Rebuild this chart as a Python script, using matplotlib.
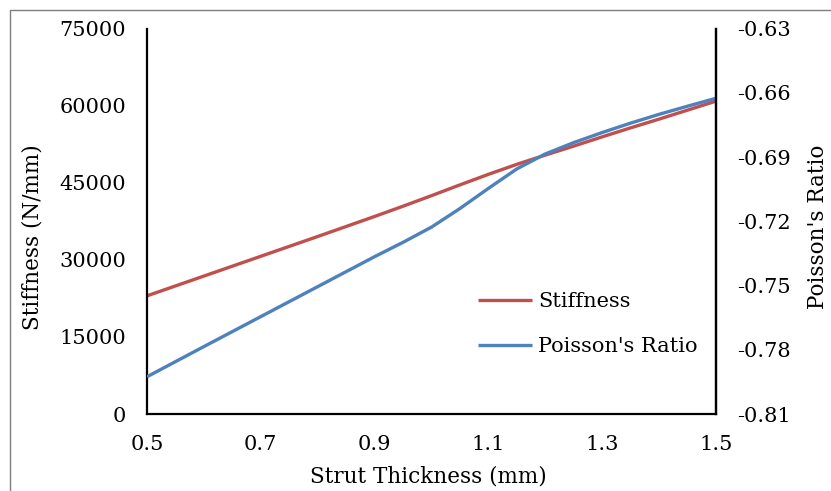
import matplotlib
matplotlib.use("Agg")
import matplotlib.pyplot as plt
from matplotlib.patches import Rectangle

plt.rcParams['font.family'] = ['DejaVu Serif']
plt.rcParams['axes.unicode_minus'] = False

thickness = [0.5, 0.6, 0.7, 0.8, 0.9, 0.95, 1.0, 1.05, 1.1, 1.15, 1.2, 1.25, 1.3,
             1.35, 1.4, 1.45, 1.5]
stiffness = [23000, 26850, 30700, 34550, 38450, 40450, 42500, 44600, 46650, 48600,
             50400, 52150, 53950, 55700, 57400, 59150, 60900]
poisson = [-0.7926, -0.7785, -0.7645, -0.7505, -0.7365, -0.7298, -0.7227, -0.7140,
           -0.7046, -0.6955, -0.6885, -0.6832, -0.6785, -0.6741, -0.6700, -0.6662,
           -0.6625]

x_ticks = [0.5, 0.7, 0.9, 1.1, 1.3, 1.5]
x_ticklabels = ["0.5", "0.7", "0.9", "1.1", "1.3", "1.5"]
left_ticks = [0, 15000, 30000, 45000, 60000, 75000]
left_ticklabels = ["0", "15000", "30000", "45000", "60000", "75000"]
right_ticks = [-0.81, -0.78, -0.75, -0.72, -0.69, -0.66, -0.63]
right_ticklabels = ["-0.81", "-0.78", "-0.75", "-0.72", "-0.69", "-0.66", "-0.63"]

W, H = 831, 491
fig = plt.figure(figsize=(W / 100, H / 100), dpi=100)
fig.patch.set_facecolor("white")

# outer frame (cropped on right/bottom)
fig.patches.append(Rectangle((10 / W, -0.2), 1.2, (H - 10) / H + 0.2,
                             transform=fig.transFigure, fill=False,
                             edgecolor="#7f7f7f", linewidth=1.0))

ax_l, ax_r, ax_t, ax_b = 147, 716, 28.7, 414
ax = fig.add_axes([ax_l / W, 1 - ax_b / H, (ax_r - ax_l) / W, (ax_b - ax_t) / H])
ax2 = ax.twinx()

red = "#C0504D"
blue = "#4F81BD"
fs = 15
lfs = 15.5

l1, = ax.plot(thickness, stiffness, color=red, linewidth=2.4, solid_capstyle="butt",
              solid_joinstyle="round")
l2, = ax2.plot(thickness, poisson, color=blue, linewidth=2.4, solid_capstyle="butt",
               solid_joinstyle="round")

ax.set_xlim(0.5, 1.5)
ax.set_ylim(0, 75000)
ax2.set_ylim(-0.81, -0.63)

ax.set_xticks(x_ticks)
ax.set_xticklabels(x_ticklabels, fontsize=fs)
ax.set_yticks(left_ticks)
ax.set_yticklabels(left_ticklabels, fontsize=fs)
ax2.set_yticks(right_ticks)
ax2.set_yticklabels(right_ticklabels, fontsize=fs)

ax.tick_params(axis="y", length=0, pad=15)
ax.tick_params(axis="x", length=0, pad=15)
ax2.tick_params(axis="y", length=0, pad=15)

for a in (ax, ax2):
    a.spines["top"].set_visible(False)
    for s in ("left", "right", "bottom"):
        a.spines[s].set_linewidth(1.6)
        a.spines[s].set_color("black")
ax2.spines["left"].set_visible(False)
ax2.spines["bottom"].set_visible(False)

fig.text(33 / W, 1 - 237 / H, "Stiffness (N/mm)", rotation=90, fontsize=lfs,
         ha="center", va="center")
fig.text(818 / W, 1 - 227 / H, "Poisson's Ratio", rotation=90, fontsize=lfs,
         ha="center", va="center")
fig.text(428 / W, 1 - 476 / H, "Strut Thickness (mm)", fontsize=lfs,
         ha="center", va="center")

leg = fig.legend([l1, l2], ["Stiffness", "Poisson's Ratio"], loc="upper left",
                 bbox_to_anchor=(478 / W, 1 - 292 / H), frameon=False,
                 fontsize=fs, handlelength=2.6, handletextpad=0.3,
                 labelspacing=1.25, borderpad=0, borderaxespad=0)

fig.savefig("out.png", dpi=100)
